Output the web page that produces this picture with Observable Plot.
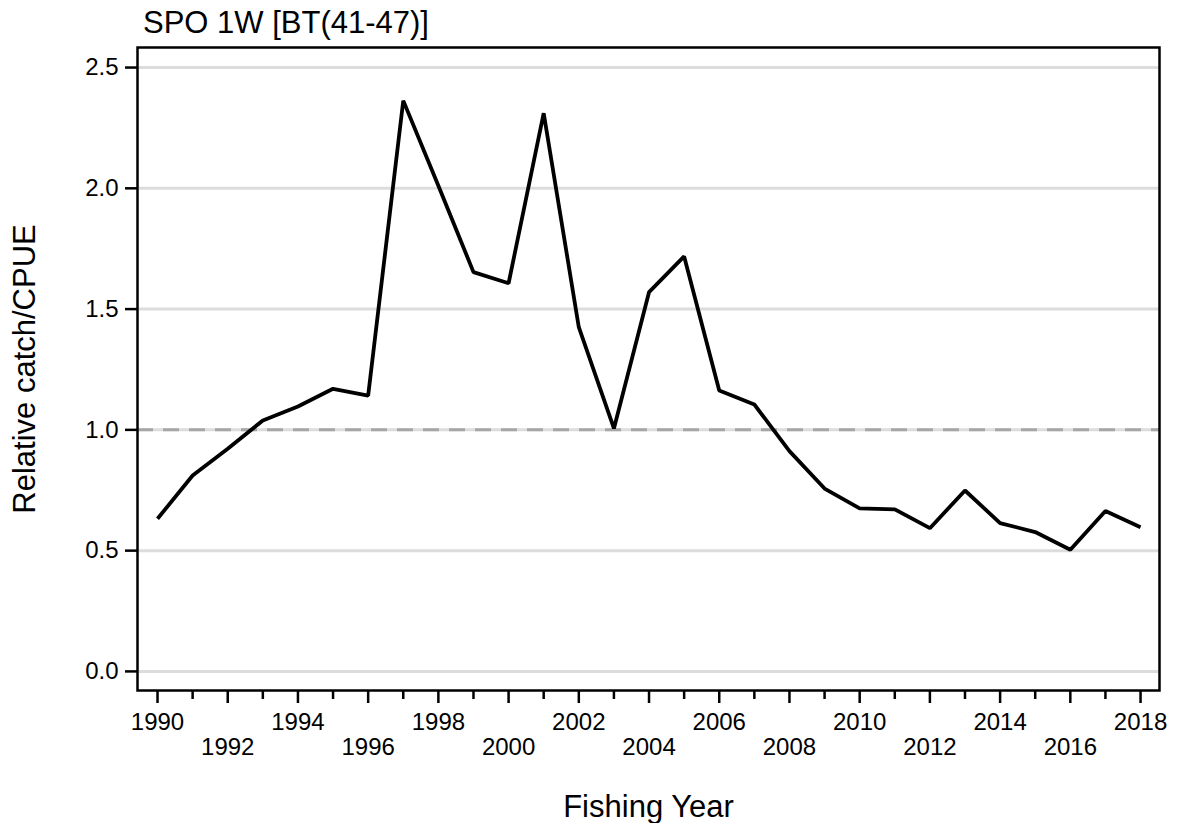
<!DOCTYPE html>
<html>
<head>
<meta charset="utf-8">
<script src="https://cdn.jsdelivr.net/npm/d3@7"></script>
<script src="https://cdn.jsdelivr.net/npm/@observablehq/plot@0.6"></script>
<style>
  html, body { margin: 0; padding: 0; background: #fff; }
  #wrap { width: 1177px; height: 823px; position: relative; font-family: "Liberation Sans", Arial, sans-serif; }
  #title { position: relative; height: 45px; }
  #title span { position: absolute; left: 143px; top: 7px; font-size: 31px; line-height: 1; color: #000; white-space: nowrap; }
  svg { display: block; }
</style>
</head>
<body>
<div id="wrap">
  <div id="title"><span>SPO 1W [BT(41-47)]</span></div>
  <div id="chart"></div>
</div>
<script>
const titleText = "SPO 1W [BT(41-47)]";
const xLabel = "Fishing Year";
const yLabel = "Relative catch/CPUE";

const years = [1990,1991,1992,1993,1994,1995,1996,1997,1998,1999,2000,2001,2002,2003,2004,
               2005,2006,2007,2008,2009,2010,2011,2012,2013,2014,2015,2016,2017,2018];
const values = [0.632,0.811,0.922,1.039,1.097,1.170,1.142,2.363,2.011,1.653,1.607,2.311,1.425,1.006,1.570,
                1.718,1.163,1.105,0.912,0.757,0.675,0.671,0.593,0.749,0.614,0.577,0.504,0.664,0.597];
const yTicks = [0, 0.5, 1.0, 1.5, 2.0, 2.5];
const xMajorTicks = [1990,1992,1994,1996,1998,2000,2002,2004,2006,2008,2010,2012,2014,2016,2018];
const xMinorTicks = [1991,1993,1995,1997,1999,2001,2003,2005,2007,2009,2011,2013,2015,2017];
const xLabelsTop = [1990,1994,1998,2002,2006,2010,2014,2018];
const xLabelsBottom = [1992,1996,2000,2004,2008,2012,2016];
const refValue = [1.0];

const data = years.map((y, i) => ({year: y, value: values[i]}));

const font = "Liberation Sans, Arial, sans-serif";

const chart = Plot.plot({
  width: 1177,
  height: 778,
  marginLeft: 137,
  marginRight: 18,
  marginTop: 2,
  marginBottom: 133,
  style: {fontFamily: font, fontSize: "24px", color: "#000", background: "#fff"},
  x: {domain: [1989.43, 2018.54], axis: null},
  y: {domain: [-0.079, 2.583], axis: null},
  marks: [
    Plot.ruleY(yTicks, {stroke: "#dcdcdc", strokeWidth: 3}),
    Plot.ruleY(refValue, {stroke: "#a6a6a6", strokeWidth: 3, strokeDasharray: "16,10"}),
    Plot.line(data, {x: "year", y: "value", stroke: "#000", strokeWidth: 3.8, strokeLinejoin: "miter", strokeLinecap: "butt"}),
    Plot.frame({stroke: "#000", strokeWidth: 2.5}),
    Plot.axisY(yTicks, {anchor: "left", tickSize: 12, tickPadding: 7, strokeWidth: 2.5, fontSize: 24, tickFormat: d => d.toFixed(1), label: null}),
    Plot.axisX(xMajorTicks, {anchor: "bottom", tickSize: 13, strokeWidth: 2.5, tickFormat: () => "", label: null}),
    Plot.axisX(xMinorTicks, {anchor: "bottom", tickSize: 9, strokeWidth: 2.5, tickFormat: () => "", label: null}),
    Plot.axisX(xLabelsTop, {anchor: "bottom", tickSize: 0, tickPadding: 22, fontSize: 24, tickFormat: d => String(d), label: null}),
    Plot.axisX(xLabelsBottom, {anchor: "bottom", tickSize: 0, tickPadding: 47, fontSize: 24, tickFormat: d => String(d), label: null}),
    Plot.text([xLabel], {frameAnchor: "bottom", dy: 117, fontSize: 31, lineAnchor: "middle", fill: "#000"}),
    Plot.text([yLabel], {frameAnchor: "left", dx: -112, rotate: -90, fontSize: 31, lineAnchor: "middle", textAnchor: "middle", fill: "#000"})
  ]
});
document.getElementById("chart").appendChild(chart);
</script>
</body>
</html>
